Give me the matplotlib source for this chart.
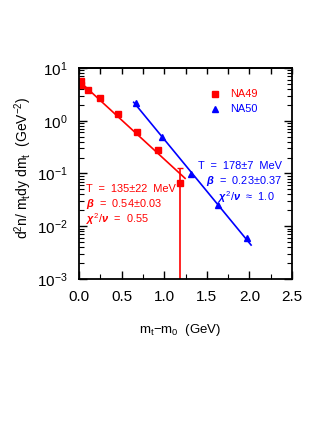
import matplotlib
matplotlib.use("Agg")
import matplotlib.pyplot as plt
from matplotlib.ticker import MultipleLocator, LogLocator, NullFormatter
import numpy as np

plt.rcParams['font.family'] = ['Liberation Sans', 'DejaVu Sans']
plt.rcParams['mathtext.fontset'] = 'custom'
plt.rcParams['mathtext.rm'] = 'Liberation Sans'
plt.rcParams['mathtext.it'] = 'Liberation Sans:italic:bold'
plt.rcParams['mathtext.bf'] = 'Liberation Sans:bold'

# NA49 data
na49_x = [0.025, 0.025, 0.11, 0.25, 0.454, 0.68, 0.924, 1.185]
na49_y = [5.6, 4.8, 3.8, 2.67, 1.34, 0.61, 0.275, 0.067]
na49_err_hi = [0, 0, 0, 0, 0, 0, 0, 0.062]
na49_err_lo = [0, 0, 0, 0, 0, 0, 0, 0.0669]
na49_fit_x = [0.0, 1.245]
na49_fit_y = [5.7, 0.081]

# NA50 data
na50_x = [0.669, 0.97, 1.318, 1.628, 1.972]
na50_y = [2.2, 0.485, 0.0966, 0.0253, 0.006]
na50_fit_x = [0.642, 2.02]
na50_fit_y = [2.24, 0.0044]

red = '#ff0000'
blue = '#0000ff'

fig = plt.figure(figsize=(3.27, 4.23), dpi=100)
ax = fig.add_axes([79/327, 144/423, 213/327, 211/423])

ax.set_yscale('log')
ax.set_xlim(0, 2.5)
ax.set_ylim(1e-3, 1e1)

ax.plot(na49_fit_x, na49_fit_y, color=red, lw=1.2)
ax.plot(na50_fit_x, na50_fit_y, color=blue, lw=1.2)
ax.errorbar(na49_x, na49_y, yerr=[na49_err_lo, na49_err_hi], fmt='s', color=red,
            ms=5, elinewidth=1.2, capsize=2.5, capthick=1.0)
ax.plot(na50_x, na50_y, '^', color=blue, ms=5)

# legend
ax.plot([1.596], [3.17], 's', color=red, ms=5)
ax.plot([1.596], [1.69], '^', color=blue, ms=5)
ax.text(1.772, 3.17, 'NA49', color=red, fontsize=7.9, va='center', ha='left')
ax.text(1.772, 1.69, 'NA50', color=blue, fontsize=7.9, va='center', ha='left')

# fit annotations
ax.text(0.082, 0.050, 'T  =  135±22  MeV', color=red, fontsize=7.9, va='center')
ax.text(0.082, 0.026, r'$\beta$  =  0.54±0.03', color=red, fontsize=7.9, va='center')
ax.text(0.082, 0.0136, r'$\chi^2/\nu$  =  0.55', color=red, fontsize=7.9, va='center')
ax.text(1.397, 0.1406, 'T  =  178±7  MeV', color=blue, fontsize=7.9, va='center')
ax.text(1.49, 0.0721, r'$\beta$  =  0.23±0.37', color=blue, fontsize=7.9, va='center')
ax.text(1.631, 0.0363, r'$\chi^2/\nu$  ≈  1.0', color=blue, fontsize=7.9, va='center')

# ticks
ax.set_xticks(np.arange(0, 2.51, 0.5))
ax.set_xticklabels([f'{v:.1f}' for v in np.arange(0, 2.51, 0.5)])
ax.xaxis.set_minor_locator(MultipleLocator(0.25))
ax.yaxis.set_major_locator(LogLocator(base=10, numticks=10))
ax.yaxis.set_minor_locator(LogLocator(base=10, subs=np.arange(2, 10), numticks=10))
ax.yaxis.set_minor_formatter(NullFormatter())
ax.tick_params(axis='both', which='major', direction='in', length=6, width=1.0,
               labelsize=11, pad=8)
ax.tick_params(axis='both', which='minor', direction='in', length=3.5, width=0.8)
ax.tick_params(axis='y', which='both', right=True, left=True)
ax.tick_params(axis='x', which='both', top=False, bottom=True)
secx = ax.secondary_xaxis('top')
secx.xaxis.set_major_locator(MultipleLocator(0.25))
secx.tick_params(axis='x', which='major', direction='in', length=4, width=1.0, labeltop=False)
secx.tick_params(axis='x', which='minor', length=0)
secx.spines['top'].set_linewidth(1.3)
for s in ax.spines.values():
    s.set_linewidth(1.3)

fig.text(180/327, 1 - 330/423, r'm$_{\rm t}$−m$_{\rm 0}$  (GeV)', fontsize=9.5,
         ha='center', va='center')
fig.text(23/327, 1 - 168/423, r'd$^2$n/ m$_{\rm t}$dy dm$_{\rm t}$  (GeV$^{-2}$)', fontsize=10,
         ha='center', va='center', rotation=90)

fig.savefig('out.png', dpi=100)
